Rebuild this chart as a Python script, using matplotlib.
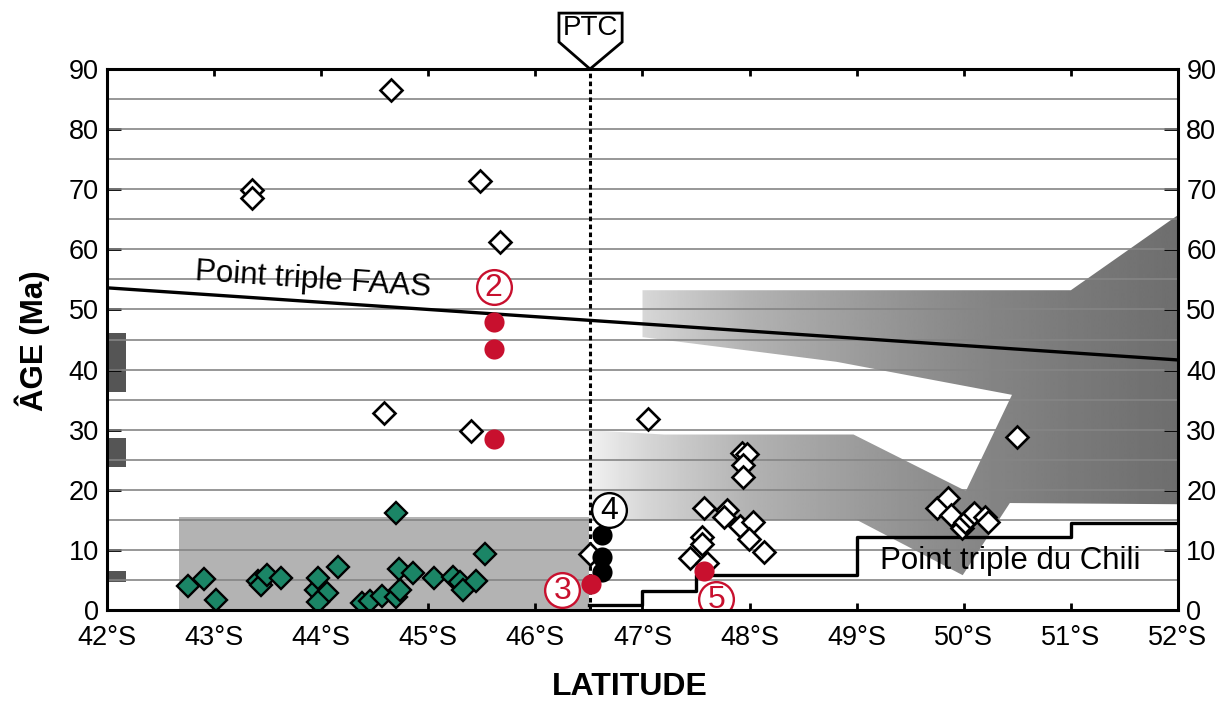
import matplotlib
matplotlib.use("Agg")
import matplotlib.pyplot as plt
from matplotlib.patches import Polygon
import numpy as np

plt.rcParams['font.family'] = ['Liberation Sans', 'DejaVu Sans']

# --- donnees (latitude en degres S, age en Ma) ---
white_lat = [43.35, 43.35, 44.65, 45.48, 45.67, 44.59, 45.40, 47.05, 46.51,
             47.93, 47.98, 47.94, 47.94, 47.57, 47.79, 47.76, 47.91, 48.03,
             47.99, 48.13, 47.56, 47.56, 47.44, 47.60,
             49.75, 49.85, 49.88, 49.98, 50.01, 50.06, 50.10, 50.20, 50.23, 50.50]
white_age = [69.8, 68.6, 86.5, 71.3, 61.3, 32.8, 29.7, 31.8, 9.3,
             26.1, 26.0, 24.1, 22.1, 16.9, 16.6, 15.5, 14.0, 14.7,
             11.8, 9.7, 12.2, 11.0, 8.7, 7.8,
             16.9, 18.6, 15.8, 13.6, 14.7, 15.5, 16.1, 15.4, 14.7, 28.8]

green_lat = [42.76, 42.91, 43.02, 43.41, 43.44, 43.49, 43.62, 43.95, 43.97,
             44.05, 43.97, 44.16, 44.70, 44.38, 44.46, 44.57, 44.70, 44.74,
             44.73, 44.86, 45.05, 45.23, 45.30, 45.32, 45.45, 45.53]
green_age = [4.05, 5.1, 1.7, 4.9, 4.2, 5.8, 5.3, 3.4, 5.3,
             2.9, 1.4, 7.2, 16.1, 1.1, 1.5, 2.3, 2.2, 3.3,
             6.8, 6.2, 5.4, 5.5, 4.7, 3.4, 4.9, 9.3]

red_lat = [45.61, 45.61, 45.61, 46.52, 47.57]
red_age = [47.9, 43.4, 28.5, 4.4, 6.5]

black_lat = [46.62, 46.62, 46.62]
black_age = [12.5, 8.9, 6.4]

# point triple FAAS
faas_lat = [42.0, 52.0]
faas_age = [53.6, 41.6]

# point triple du Chili (escalier)
chili_lat = [46.5, 47.0, 47.5, 49.0, 51.0, 52.0]
chili_age = [0.8, 3.2, 5.9, 12.2, 14.4, 14.4]

# barres sombres a gauche (bas, haut)
bars_bottom = [36.3, 23.8, 4.7]
bars_top = [46.1, 28.6, 6.5]

# zone grise claire
rect_lat = [42.67, 46.5]
rect_age = 15.4

# zone en degrade
grad_poly = [(46.5, 29.9), (47.2, 29.2), (48.97, 29.2), (50.02, 19.8),
             (50.45, 35.8), (48.81, 41.3), (47.0, 45.4), (47.0, 53.2),
             (51.0, 53.2), (52.0, 65.7), (52.0, 17.6), (50.43, 17.8),
             (49.99, 5.8), (49.0, 15.0), (46.5, 15.0)]
grad_x = [46.5, 47.0, 47.5, 48.0, 49.0, 50.0, 51.0, 52.0]
grad_v = [242, 215, 196, 178, 156, 136, 122, 110]

# etiquettes numerotees
num_text = ['2', '3', '4', '5']
num_lat = [45.61, 46.25, 46.69, 47.69]
num_age = [53.7, 3.3, 16.6, 1.8]
num_col = ['#c8102e', '#c8102e', 'black', '#c8102e']

ptc_lat = 46.51

red = '#c8102e'
green = '#1b8566'

fig = plt.figure(figsize=(12.3, 7.02), dpi=100)
ax = fig.add_axes([0.087, 0.131, 0.8707, 0.7707])
ax.set_xlim(42, 52)
ax.set_ylim(0, 90)

# fonds
ax.bar(rect_lat[0], rect_age, width=rect_lat[1] - rect_lat[0], align='edge',
       color='#b3b3b3', zorder=1)
ax.bar([42.0] * 3, np.array(bars_top) - np.array(bars_bottom), bottom=bars_bottom,
       width=0.18, align='edge', color='#555555', zorder=1)

xs = np.linspace(46.5, 52, 300)
vals = np.interp(xs, grad_x, grad_v)[None, :]
im = ax.imshow(vals, cmap='gray', vmin=0, vmax=255, extent=[46.5, 52, 0, 90],
               aspect='auto', origin='lower', zorder=1, interpolation='bilinear')
poly = Polygon(grad_poly, closed=True, transform=ax.transData)
im.set_clip_path(poly)
ax.set_xlim(42, 52)
ax.set_ylim(0, 90)

# grille
ax.hlines(np.arange(5, 90, 5), 42, 52, colors='#858585', lw=1.2, zorder=2)

# lignes
ax.plot(faas_lat, faas_age, color='black', lw=2.4, zorder=3)
ax.step(chili_lat, chili_age, where='post', color='black', lw=2.4, zorder=3)
ax.plot([ptc_lat, ptc_lat], [0, 90], color='black', lw=2.2,
        ls=(0, (1.5, 1.1)), zorder=3)

# points
ax.plot(green_lat, green_age, 'D', ms=11, mfc=green, mec='black', mew=1.7,
        ls='none', zorder=4)
ax.plot(white_lat, white_age, 'D', ms=11, mfc='white', mec='black', mew=1.9,
        ls='none', zorder=4)
ax.plot(black_lat, black_age, 'o', ms=14.5, mfc='black', mec='none', ls='none', zorder=5)
ax.plot(red_lat, red_age, 'o', ms=14.5, mfc=red, mec='none', ls='none', zorder=5)

for t, x, y, c in zip(num_text, num_lat, num_age, num_col):
    ax.plot(x, y, 'o', ms=25, mfc='white', mec=c, mew=1.7, zorder=6)
    ax.text(x, y - 0.2, t, color=c, fontsize=23, ha='center', va='center', zorder=7)

# textes
ax.text(43.92, 54.9, 'Point triple FAAS', fontsize=22.5, rotation=-3.9,
        rotation_mode='anchor', ha='center', va='center', zorder=6)
ax.text(49.22, 8.2, 'Point triple du Chili', fontsize=22.5, ha='left',
        va='center', zorder=6)

# marqueur PTC
ax.fill([46.22, 46.81, 46.81, ptc_lat, 46.22],
        [99.3, 99.3, 94.5, 90.0, 94.5],
        facecolor='white', edgecolor='black', lw=2, clip_on=False, zorder=8)
ax.text(ptc_lat, 96.9, 'PTC', fontsize=20, ha='center', va='center',
        clip_on=False, zorder=9)

# axes
for s in ax.spines.values():
    s.set_linewidth(2.2)
    s.set_zorder(10)
ax.set_yticks(np.arange(0, 91, 10))
ax.set_xticks(np.arange(42, 53, 1))
ax.set_xticklabels(['%d°S' % v for v in range(42, 53)])
ax.tick_params(axis='y', direction='in', length=10, width=2, labelsize=19.5,
               left=True, right=True, labelleft=True, labelright=True, pad=6)
ax.tick_params(axis='x', direction='in', length=5, width=2, labelsize=19.5,
               top=True, bottom=True, pad=11)

fig.text(0.026, 0.515, 'ÂGE (Ma)', rotation=90, fontsize=22.5, fontweight='bold',
         ha='center', va='center')
fig.text(0.512, 0.022, 'LATITUDE', fontsize=23, fontweight='bold',
         ha='center', va='center')

fig.savefig('out.png', dpi=100)
